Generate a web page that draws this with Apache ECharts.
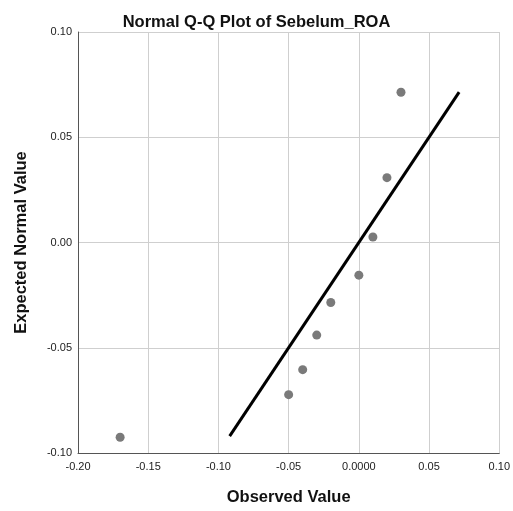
<!DOCTYPE html>
<html>
<head>
<meta charset="utf-8">
<script src="https://cdn.jsdelivr.net/npm/echarts@6/dist/echarts.min.js"></script>
<style>
html,body{margin:0;padding:0;background:#fff;}
#chart{width:513px;height:511px;}
</style>
</head>
<body>
<div id="chart"></div>
<script>
var titleText = 'Normal Q-Q Plot of Sebelum_ROA';
var xAxisName = 'Observed Value';
var yAxisName = 'Expected Normal Value';
var observed = [-0.17, -0.05, -0.04, -0.03, -0.02, 0.00, 0.01, 0.02, 0.03];
var expected = [-0.0925, -0.0723, -0.0604, -0.0440, -0.0285, -0.0155, 0.0026, 0.0308, 0.0714];
var refLineX = [-0.092, 0.0714];
var refLineY = [-0.092, 0.0714];
var xTickLabels = ['-0.20', '-0.15', '-0.10', '-0.05', '0.0000', '0.05', '0.10'];
var yTickLabels = ['-0.10', '-0.05', '0.00', '0.05', '0.10'];

var xMin = -0.20, xMax = 0.10, xInt = 0.05;
var yMin = -0.10, yMax = 0.10, yInt = 0.05;

var points = observed.map(function (v, i) { return [v, expected[i]]; });
var lineData = refLineX.map(function (v, i) { return [v, refLineY[i]]; });

var font = '"Liberation Sans", Arial, sans-serif';
var chart = echarts.init(document.getElementById('chart'), null, {renderer: 'canvas'});
chart.setOption({
  animation: false,
  backgroundColor: '#ffffff',
  title: {
    text: titleText,
    left: 'center',
    top: 9,
    textStyle: {fontFamily: font, fontSize: 16.5, fontWeight: 'bold', color: '#111'}
  },
  grid: {left: 78, right: 13, top: 32, bottom: 53.5, containLabel: false},
  xAxis: {
    type: 'value', min: xMin, max: xMax, interval: xInt,
    name: xAxisName, nameLocation: 'middle', nameGap: 36,
    nameTextStyle: {fontFamily: font, fontSize: 16.5, fontWeight: 'bold', color: '#111'},
    axisLine: {show: true, onZero: false, lineStyle: {color: '#555', width: 1}},
    axisTick: {show: false},
    splitLine: {show: true, lineStyle: {color: '#cfcfcf', width: 1}},
    axisLabel: {
      fontFamily: font, fontSize: 11, color: '#222', margin: 8,
      showMinLabel: true, showMaxLabel: true,
      formatter: function (v) { return xTickLabels[Math.round((v - xMin) / xInt)]; }
    }
  },
  yAxis: {
    type: 'value', min: yMin, max: yMax, interval: yInt,
    name: yAxisName, nameLocation: 'middle', nameGap: 48, nameRotate: 90,
    nameTextStyle: {fontFamily: font, fontSize: 16.5, fontWeight: 'bold', color: '#111'},
    axisLine: {show: true, onZero: false, lineStyle: {color: '#555', width: 1}},
    axisTick: {show: false},
    splitLine: {show: true, lineStyle: {color: '#cfcfcf', width: 1}},
    axisLabel: {
      fontFamily: font, fontSize: 11, color: '#222', margin: 6,
      padding: [4, 0, 0, 0],
      showMinLabel: true, showMaxLabel: true,
      formatter: function (v) { return yTickLabels[Math.round((v - yMin) / yInt)]; }
    }
  },
  series: [
    {
      type: 'line', data: lineData, symbol: 'none', silent: true,
      lineStyle: {color: '#000', width: 3}, z: 3
    },
    {
      type: 'scatter', data: points, symbol: 'circle', symbolSize: 9,
      itemStyle: {color: '#7a7a7a', opacity: 1}, z: 4
    }
  ]
});
</script>
</body>
</html>
